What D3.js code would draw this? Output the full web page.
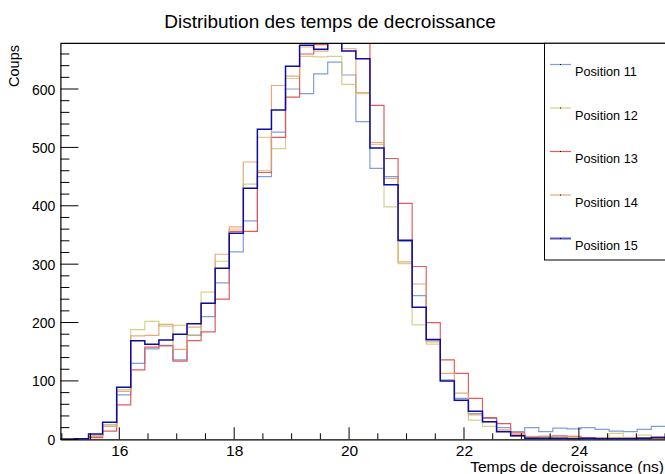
<!DOCTYPE html>
<html><head><meta charset="utf-8">
<script src="https://cdn.jsdelivr.net/npm/d3@7"></script>
<style>body{margin:0;background:#fff}svg{display:block;font-family:"Liberation Sans",Arial,Helvetica,sans-serif}</style>
</head><body><svg id="c" width="665" height="474"></svg>
<script>
// ---- data ----
const seriesNames = ["Position 11","Position 12","Position 13","Position 14","Position 15"];
const xMin = 14.975;
const binWidth = 0.2449;
const pos11 = [0,1,6,25,76,130,155,161,136,178,210,268,321,374,450,526,600,592,626,646,624,544,464,450,339,246,170,102,70,44,36,20,13,20,13,19,18,20,17,14,13,17,22];
const pos12 = [0,1,6,25,85,188,202,194,195,179,252,305,360,437,517,498,618,656,655,656,608,592,505,398,301,196,163,101,66,33,22,14,5,3,3,2,3,2,3,10,3,7,2];
const pos13 = [0,0,3,14,59,119,158,160,134,169,184,240,356,356,457,517,586,660,676,700,705,715,572,481,404,296,200,136,113,70,37,27,11,4,5,6,5,3,2,2,2,2,2];
const pos14 = [0,1,5,22,82,177,178,197,154,192,233,317,364,475,460,606,622,672,665,685,669,594,508,447,304,266,167,113,79,42,30,16,8,5,5,5,4,3,3,3,2,3,4];
const pos15 = [0,1,9,29,89,169,163,170,180,198,233,293,353,430,531,564,639,675,668,690,665,652,499,436,341,226,171,100,67,48,30,13,6,2,2,2,1,2,1,1,1,2,3];
const xTickValues = [16,18,20,22,24];
const yTickValues = [0,100,200,300,400,500,600];
const titleText = "Distribution des temps de decroissance";
const xTitle = "Temps de decroissance (ns)";
const yTitle = "Coups";

// ---- styles ----
const colors = ["#7193dc","#d3cb7a","#e04a4a","#e2a26c","#0c0ca6"];
const widths = [1.2,1.2,1.2,1.2,1.5];
const opac = [0.9,0.9,0.9,0.9,1];

const svg = d3.select("#c");
const L = 60.4, R = 665.4, T = 43.3, B = 439.3;
const nb = pos11.length;
const x = d3.scaleLinear().domain([xMin, xMin + nb*binWidth]).range([L, R]);
const y = d3.scaleLinear().domain([0, 678.3]).range([B, T]);

svg.append("defs").append("clipPath").attr("id","clip")
  .append("rect").attr("x",L).attr("y",T).attr("width",R-L).attr("height",B-T);

// histograms
const data = [pos11,pos12,pos13,pos14,pos15];
const line = d3.line().x(d=>x(d[0])).y(d=>y(d[1])).curve(d3.curveStepAfter);
const g = svg.append("g").attr("clip-path","url(#clip)");
data.forEach((vals,i)=>{
  const pts = vals.map((v,k)=>[xMin + k*binWidth, v]);
  pts.push([xMin + nb*binWidth, vals[nb-1]]);
  g.append("path").attr("d", line(pts)).attr("fill","none")
    .attr("stroke", colors[i]).attr("stroke-width", widths[i]).attr("stroke-opacity", opac[i]);
});

// frame: top line
svg.append("line").attr("x1",L).attr("x2",R).attr("y1",T).attr("y2",T).attr("stroke","#000").attr("stroke-width",1.2);

// x axis
const xAxis = d3.axisBottom(x).tickValues(xTickValues).tickFormat(d3.format("d")).tickSize(0).tickPadding(0);
const xg = svg.append("g").attr("transform",`translate(0,${B})`).call(xAxis);
xg.select(".domain").attr("stroke","#000").attr("stroke-width",1.2);
xg.selectAll(".tick text").attr("font-size",15.5).attr("fill","#000").attr("y",16.5).attr("dy",0);
const xMinor = d3.range(15, 25.51, 0.5);
svg.append("g").selectAll("line").data(xMinor).join("line")
  .attr("x1",d=>x(d)).attr("x2",d=>x(d)).attr("y1",B)
  .attr("y2",d=> (Math.abs(d%2)<1e-9) ? B-12 : B-6)
  .attr("stroke","#000").attr("stroke-width",1);

// y axis
const yAxis = d3.axisLeft(y).tickValues(yTickValues).tickFormat(d3.format("d")).tickSize(0).tickPadding(0);
const yg = svg.append("g").attr("transform",`translate(${L},0)`).call(yAxis);
yg.select(".domain").attr("stroke","#000").attr("stroke-width",1.2);
yg.selectAll(".tick text").attr("font-size",14).attr("fill","#000").attr("x",-5).attr("dy","0.36em");
const yMinor = d3.range(0, 679, 20);
svg.append("g").selectAll("line").data(yMinor).join("line")
  .attr("y1",d=>y(d)).attr("y2",d=>y(d)).attr("x1",L)
  .attr("x2",d=> d%100===0 ? L+18 : L+9)
  .attr("stroke","#000").attr("stroke-width",1);

// titles
svg.append("text").attr("x",330).attr("y",28).attr("text-anchor","middle").attr("font-size",19).text(titleText);
svg.append("text").attr("x",664).attr("y",472).attr("text-anchor","end").attr("font-size",15.5).text(xTitle);
svg.append("text").attr("transform","translate(19,45) rotate(-90)").attr("text-anchor","end").attr("font-size",14.5).text(yTitle);

// legend
const lg = svg.append("g");
lg.append("rect").attr("x",544.5).attr("y",T).attr("width",140).attr("height",260-T)
  .attr("fill","#fff").attr("stroke","#000").attr("stroke-width",1);
seriesNames.forEach((nm,i)=>{
  const yb = 76 + i*43.5;
  lg.append("line").attr("x1",550).attr("x2",571).attr("y1",yb-11.5).attr("y2",yb-11.5)
    .attr("stroke",colors[i]).attr("stroke-width",i===4?2:1.2).attr("stroke-opacity",i===4?0.7:0.9);
  lg.append("rect").attr("x",560).attr("y",yb-12).attr("width",1).attr("height",1).attr("fill","#000");
  lg.append("text").attr("x",575).attr("y",yb).attr("font-size",12.7).text(nm);
});
</script></body></html>
